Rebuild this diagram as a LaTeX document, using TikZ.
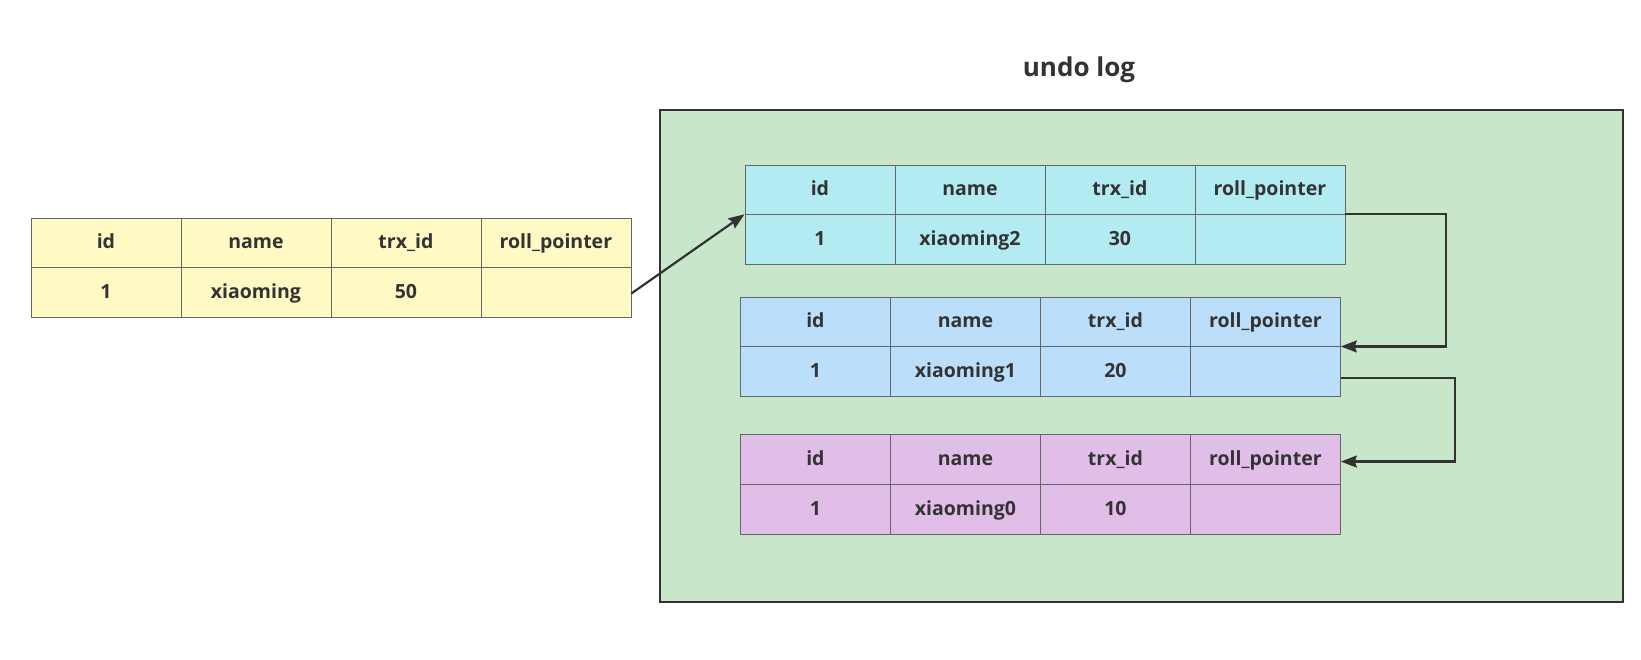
\documentclass[tikz,border=0pt]{standalone}
\usepackage{fontspec}
\setmainfont{Open Sans}
\usetikzlibrary{arrows.meta}
\definecolor{txt}{HTML}{333333}
\definecolor{cellline}{HTML}{666666}
\definecolor{ylw}{HTML}{FFF9C4}
\definecolor{cyn}{HTML}{B2EBF2}
\definecolor{blu}{HTML}{BBDEFB}
\definecolor{pnk}{HTML}{E1BEE7}
\definecolor{grn}{HTML}{C8E6C9}
\newcommand\rowtable[6]{%
  \foreach \lab [count=\k] in {id,name,trx\_id,roll\_pointer}
    \node[cell,fill=#4] (#1-1-\k) at ({#2+150*\k-150},{#3}) {\lab};
  \foreach \lab [count=\k] in {1,#5,#6,{}}
    \node[cell,fill=#4] (#1-2-\k) at ({#2+150*\k-150},{#3+49.75}) {\lab};
}
\begin{document}
\begin{tikzpicture}[x=1pt,y=-1pt,
  cell/.style={draw=cellline, line width=0.8pt, minimum width=150pt, minimum height=49.75pt,
    anchor=north west, inner sep=0pt, text height=14pt, text depth=2pt,
    font=\fontsize{19.5}{22}\selectfont\bfseries, text=txt},
  ptr/.style={draw=txt, line width=2.2pt, -{Stealth[length=16pt,width=12pt,inset=2pt]}},
  container/.style={draw=txt, line width=2pt, fill=grn, anchor=north west, inner sep=0pt,
    minimum width=962.7pt, minimum height=491.7pt}]
\useasboundingbox (0,0) rectangle (1641,659);
\fill[white] (0,0) rectangle (1641,659);
\node[font=\fontsize{26}{30}\selectfont\bfseries, text=txt] (title) at (1079,70) {undo log};
\node[container] (undobox) at (659,109) {};
\rowtable{Y}{30.5}{217.5}{ylw}{xiaoming}{50}
\rowtable{C}{744.5}{164.5}{cyn}{xiaoming2}{30}
\rowtable{B}{740}{296.7}{blu}{xiaoming1}{20}
\rowtable{P}{740}{434.3}{pnk}{xiaoming0}{10}
\draw[ptr] ([yshift=-1pt]Y-2-4.east) -- (C-2-1.north west);
\draw[ptr] (C-2-4.north east) -- ++(100.5,0) |- (B-2-4.north east);
\draw[ptr] ([yshift=-6pt]B-2-4.east) -- ++(114,0) |- ([yshift=-2pt]P-1-4.east);
\end{tikzpicture}
\end{document}
